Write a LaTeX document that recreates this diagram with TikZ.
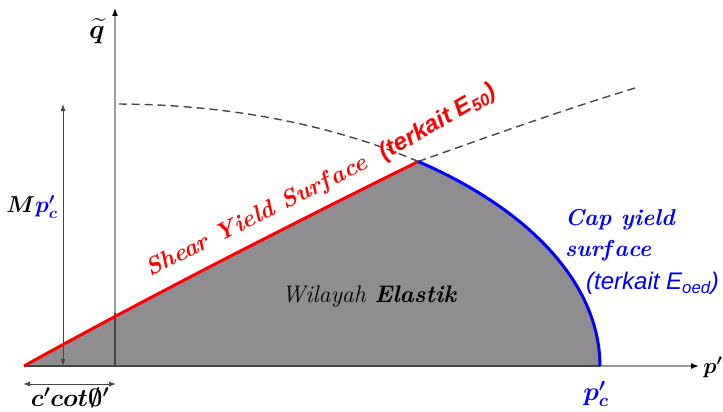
\RequirePackage{fix-cm}
\documentclass[tikz,border=0pt]{standalone}
\usepackage{fontspec}
\usepackage{amsmath,bm}
\newfontfamily\arialf{Liberation Sans}
\usetikzlibrary{arrows.meta}
\definecolor{fillgray}{RGB}{143,141,143}
\definecolor{axisgray}{RGB}{155,155,155}
\definecolor{darkline}{RGB}{70,70,70}
\definecolor{capblue}{RGB}{0,0,255}
\definecolor{shearred}{RGB}{255,0,0}
\newcommand{\wide}{\addfontfeatures{LetterSpace=8}}
\begin{document}
\begin{tikzpicture}[x=1pt,y=-1pt,
  axisline/.style={draw=axisgray, line width=1.5pt, -{Latex[length=8pt,width=6pt,black]}},
  dimarrow/.style={draw=darkline, line width=0.9pt, {Latex[length=7pt,width=5pt]}-{Latex[length=7pt,width=5pt]}},
  dashedcurve/.style={draw=darkline, line width=1.4pt, dash pattern=on 8pt off 5pt},
  shearline/.style={draw=shearred, line width=3pt},
  capline/.style={draw=capblue, line width=3pt},
  lbl/.style={inner sep=0pt, anchor=center}
]
\useasboundingbox (0,0) rectangle (723,412);
\coordinate (O) at (24,366);
\coordinate (peak) at ({115+485*cos(51.3)},{366-262*sin(51.3)});
\coordinate (pc) at (600,366);
\coordinate (qb) at (115,366);
\coordinate (qt) at (115,8);
\coordinate (pt) at (699,366);
\coordinate (qs) at (115,313);
\coordinate (ext) at (635,88);
\coordinate (mtop) at (63,104);
\coordinate (mbot) at (63,366);
\coordinate (cl) at (23,384);
\coordinate (cr) at (116,384);

% elastic region
\fill[fillgray] (O) .. controls (150,296) and (300,220) .. (peak)
  -- plot[domain=51.3:0, samples=60] ({115+485*cos(\x)},{366-262*sin(\x)}) -- cycle;

% axes
\draw[axisline] (qb) -- (qt);
\draw[draw=darkline, line width=1.2pt] (qb) -- (qs);
\draw[axisline] (O) -- (pt);
\draw[draw=darkline, line width=1.2pt] (O) -- (pc);

% dashed continuations
\draw[dashedcurve] plot[domain=51.3:90, samples=60] ({115+485*cos(\x)},{366-262*sin(\x)});
\draw[dashedcurve] (peak) .. controls (490,136) and (560,111) .. (ext);

% yield surfaces
\draw[shearline] (O) .. controls (150,296) and (300,220) .. (peak);
\draw[capline] plot[domain=51.3:0, samples=60] ({115+485*cos(\x)},{366-262*sin(\x)});

% dimension arrows
\draw[dimarrow] (mbot) -- (mtop);
\draw[dimarrow] (cl) -- (cr);

% labels
\node[lbl, font=\fontsize{27}{30}\selectfont] (qlab) at (97,31) {$\bm{\widetilde{q}}$};
\node[lbl, font=\fontsize{23}{26}\selectfont] (mlab) at (32,207) {$\bm{M}\textcolor{capblue}{\bm{p'_c}}$};
\node[lbl, font=\fontsize{22}{24}\selectfont] (plab) at (713,367) {$\bm{p'}$};
\node[lbl, font=\fontsize{26}{30}\selectfont, text=capblue] (pclab) at (596,394) {$\bm{p'_c}$};
\node[lbl, font=\fontsize{25}{28}\selectfont] (clab) at (70,398) {$\bm{c'cot\emptyset'}$};
\node[lbl, font=\fontsize{24}{28}\selectfont\bfseries\itshape\wide, text=shearred, rotate=26.5] (shear) at (257,217) {Shear Yield Surf\kern3pt ace};
\node[lbl, font=\fontsize{24}{28}\selectfont\arialf\bfseries\itshape, text=shearred, rotate=30] (e50) at (438,123) {(terkait E$_{\text{50}}$)};
\node[lbl, font=\fontsize{24}{28}\selectfont\wide] (wil) at (369,297) {\itshape Wilayah \bfseries Elastik};
\node[lbl, font=\fontsize{23}{26}\selectfont\bfseries\itshape\wide, text=capblue, anchor=west] (cap1) at (565,220) {Cap yield};
\node[lbl, font=\fontsize{23}{26}\selectfont\bfseries\itshape\wide, text=capblue, anchor=west] (cap2) at (565,251) {surf\kern3pt ace};
\node[lbl, font=\fontsize{24}{28}\selectfont\arialf\itshape, text=capblue, anchor=west] (cap3) at (586,283) {(terkait E$_{\text{oed}}$)};
\end{tikzpicture}
\end{document}
